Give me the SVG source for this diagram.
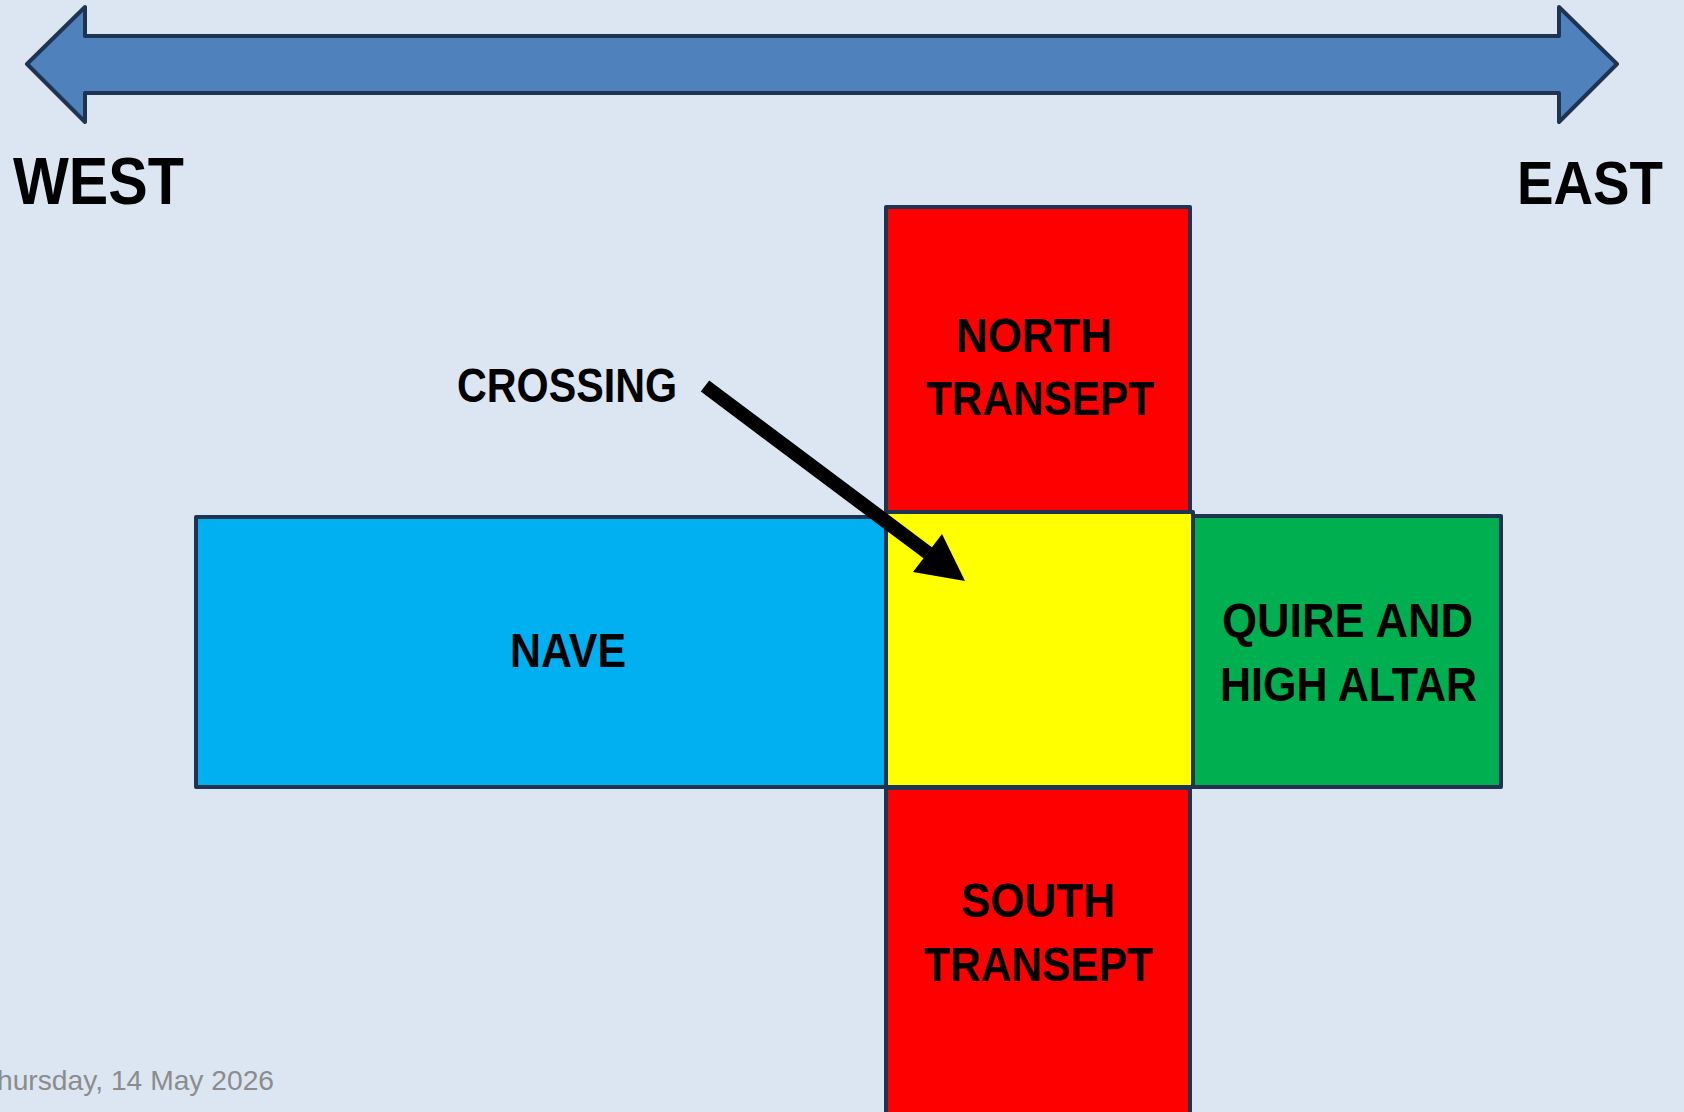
<svg xmlns="http://www.w3.org/2000/svg" width="1684" height="1112" viewBox="0 0 1684 1112">
  <style>
    .box { stroke: #1E3450; stroke-width: 4; stroke-linejoin: round; }
    .lbl { font-family: "Liberation Sans", Arial, sans-serif; font-weight: bold; fill: #000000; }
    .big { font-size: 66px; }
    .mid { font-size: 48px; }
    .date { font-family: "Liberation Sans", Arial, sans-serif; font-size: 28px; fill: #8C8C8C; }
  </style>
  <rect x="0" y="0" width="1684" height="1112" fill="#DCE6F2"/>

  <g id="compass-arrow">
    <polygon class="box" fill="#4F81BD" points="27,64 85,7 85,36 1559,36 1559,7 1617,64 1559,122 1559,93 85,93 85,122"/>
  </g>
  <g id="west">
    <text class="lbl big" x="13" y="204" textLength="171" lengthAdjust="spacingAndGlyphs">WEST</text>
  </g>
  <g id="east">
    <text class="lbl" font-size="62" x="1517" y="204" textLength="146" lengthAdjust="spacingAndGlyphs">EAST</text>
  </g>

  <g id="nave">
    <rect class="box" fill="#00B0F0" x="196" y="517" width="690" height="270"/>
    <text class="lbl mid" x="510" y="667" textLength="116" lengthAdjust="spacingAndGlyphs">NAVE</text>
  </g>
  <g id="quire">
    <rect class="box" fill="#00B050" x="1193" y="516" width="308" height="271"/>
    <text class="lbl mid" x="1222" y="637" textLength="251" lengthAdjust="spacingAndGlyphs">QUIRE AND</text>
    <text class="lbl mid" x="1220" y="701" textLength="257" lengthAdjust="spacingAndGlyphs">HIGH ALTAR</text>
  </g>
  <g id="north-transept">
    <rect class="box" fill="#FF0000" x="886" y="207" width="304" height="305"/>
    <text class="lbl mid" x="956" y="352" textLength="156" lengthAdjust="spacingAndGlyphs">NORTH</text>
    <text class="lbl mid" x="926" y="415" textLength="228" lengthAdjust="spacingAndGlyphs">TRANSEPT</text>
  </g>
  <g id="south-transept">
    <rect class="box" fill="#FF0000" x="886" y="788" width="304" height="340"/>
    <text class="lbl mid" x="961" y="917" textLength="154" lengthAdjust="spacingAndGlyphs">SOUTH</text>
    <text class="lbl mid" x="924" y="981" textLength="229" lengthAdjust="spacingAndGlyphs">TRANSEPT</text>
  </g>
  <g id="crossing">
    <rect class="box" fill="#FFFF00" x="886" y="512" width="307" height="275"/>
  </g>
  <g id="crossing-label">
    <text class="lbl mid" x="457" y="402" textLength="220" lengthAdjust="spacingAndGlyphs">CROSSING</text>
  </g>

  <g id="connectors">
    <line x1="705" y1="386" x2="928" y2="553" stroke="#000000" stroke-width="14"/>
    <polygon fill="#000000" points="965,581 913,572 942,534"/>
  </g>

  <g id="footer">
    <text class="date" x="-3" y="1090" textLength="277" lengthAdjust="spacingAndGlyphs">hursday, 14 May 2026</text>
  </g>
</svg>
